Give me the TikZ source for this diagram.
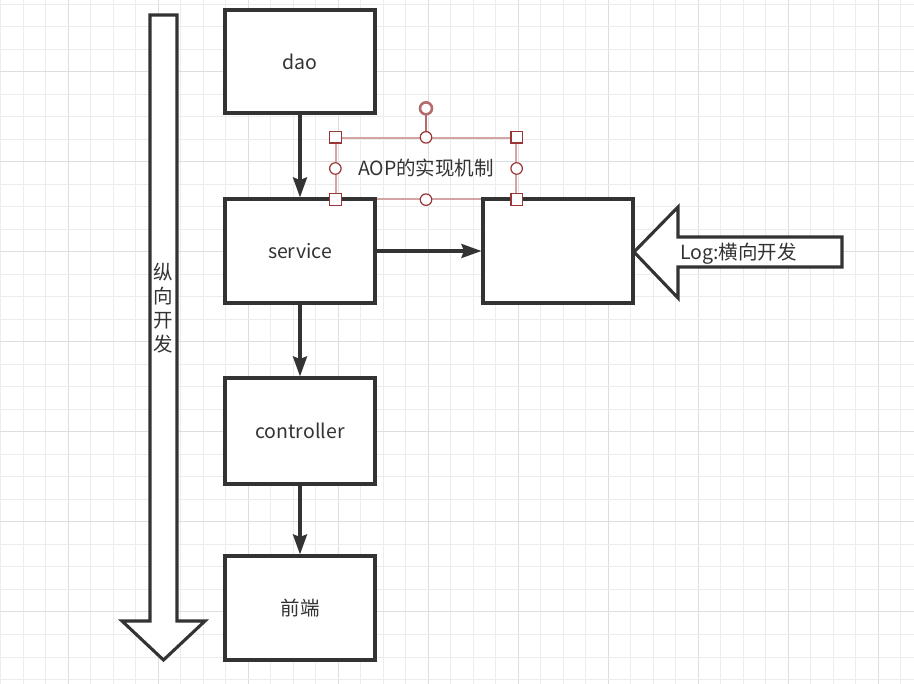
\documentclass[tikz,border=0pt]{standalone}
\usepackage{fontspec}
\setmainfont{Noto Sans CJK SC}
\usetikzlibrary{arrows.meta}
\definecolor{ink}{HTML}{333333}
\definecolor{gridminor}{HTML}{ECECEC}
\definecolor{gridmajor}{HTML}{DEDEDE}
\definecolor{selline}{HTML}{D2A4A4}
\definecolor{selhandle}{HTML}{9A3535}
\definecolor{selrot}{HTML}{B36B6B}
\begin{document}
\begin{tikzpicture}[x=1pt,y=-1pt,
  label font/.style={font=\fontsize{19.5}{24}\selectfont, text=ink},
  block/.style={draw=ink, line width=3.1pt, fill=white, minimum width=150pt,
    inner sep=0pt, label font},
  conn/.style={draw=ink, line width=3.1pt,
    -{Stealth[length=20pt,width=14pt,inset=2.5pt]}},
  bigarrow/.style={draw=ink, line width=3.1pt, fill=white, line join=miter},
  selbox/.style={draw=selline, line width=1.3pt, minimum width=180pt,
    minimum height=61pt, inner sep=0pt, label font},
  sqhandle/.style={draw=selhandle, fill=white, line width=1.2pt,
    minimum size=11.5pt, inner sep=0pt},
  cirhandle/.style={draw=selhandle, fill=white, line width=1.2pt, circle,
    minimum size=11.5pt, inner sep=0pt},
  rothandle/.style={draw=selrot, fill=white, line width=2.6pt, circle,
    minimum size=12pt, inner sep=0pt}]

\useasboundingbox (0,0) rectangle (914,684);
\fill[white] (0,0) rectangle (914,684);

% background grid: minor every 22.5, major every fourth line
\foreach \k in {-3,...,37} {
  \pgfmathsetmacro{\gx}{68+22.5*\k}
  \pgfmathtruncatemacro{\m}{mod(\k+40,4)}
  \ifnum\m=0 \def\gc{gridmajor}\else\def\gc{gridminor}\fi
  \draw[\gc, line width=1pt] (\gx,0) -- (\gx,684);
}
\foreach \k in {-3,...,28} {
  \pgfmathsetmacro{\gy}{72+22.5*\k}
  \pgfmathtruncatemacro{\m}{mod(\k+40,4)}
  \ifnum\m=0 \def\gc{gridmajor}\else\def\gc{gridminor}\fi
  \draw[\gc, line width=1pt] (0,\gy) -- (914,\gy);
}

% selection frame of the text label
\node[selbox] (aop) at (426,168.5) {\raisebox{-1.5pt}{AOP的实现机制}};

% vertical development arrow
\draw[bigarrow] (150,15) -- (177,15) -- (177,621) -- (205,621) -- (163.5,660)
  -- (122,621) -- (150,621) -- cycle;
\node[label font, align=center, inner sep=0pt] (vdev) at (163.5,308)
  {纵\\向\\开\\发};

% layer boxes
\node[block, minimum height=103pt] (dao) at (300,61.5) {\raisebox{-1.5pt}{dao}};
\node[block, minimum height=104pt] (service) at (300,251) {\raisebox{-1.5pt}{service}};
\node[block, minimum height=106pt] (controller) at (300,431) {controller};
\node[block, minimum height=104pt] (front) at (300,608) {\raisebox{-1pt}{前端}};
\node[block, minimum height=104pt] (aspect) at (558,251) {};

% horizontal log arrow
\draw[bigarrow] (634,252) -- (678,207) -- (678,237) -- (842,237) -- (842,267)
  -- (678,267) -- (678,298) -- cycle;
\node[label font, anchor=west, inner sep=0pt] (log) at (680,253.5) {Log:横向开发};

% connectors
\draw[conn] (dao) -- (service);
\draw[conn] (service) -- (controller);
\draw[conn] (controller) -- (front);
\draw[conn] (service) -- (aspect);

% selection handles
\coordinate (rot) at ([yshift=29pt]aop.north);
\draw[selrot, line width=1.5pt] (aop.north) -- (rot);
\node[rothandle] (hrot) at (rot) {};
\node[sqhandle] (hnw) at (aop.north west) {};
\node[sqhandle] (hne) at (aop.north east) {};
\node[sqhandle] (hsw) at (aop.south west) {};
\node[sqhandle] (hse) at (aop.south east) {};
\node[cirhandle] (hn) at (aop.north) {};
\node[cirhandle] (hs) at (aop.south) {};
\node[cirhandle] (hw) at (aop.west) {};
\node[cirhandle] (he) at (aop.east) {};
\end{tikzpicture}
\end{document}
